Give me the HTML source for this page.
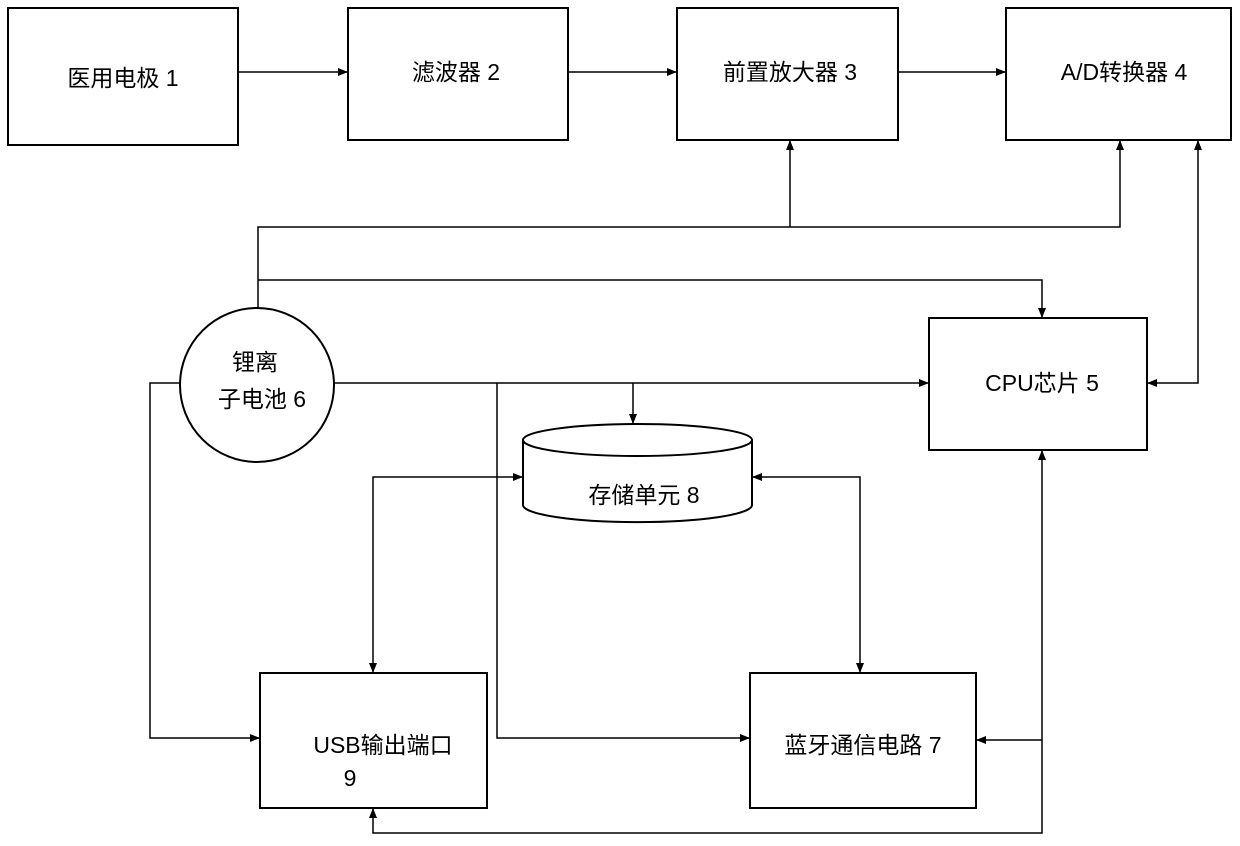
<!DOCTYPE html>
<html><head><meta charset="utf-8"><style>
html,body{margin:0;padding:0;background:#fff;}
svg text{font-family:"Liberation Sans","Noto Sans CJK SC",sans-serif;font-size:23px;fill:#000;}
</style></head><body>
<svg width="1240" height="841" viewBox="0 0 1240 841" xmlns="http://www.w3.org/2000/svg">
<defs><marker id="a" markerWidth="10" markerHeight="8" refX="9" refY="4" orient="auto-start-reverse" markerUnits="userSpaceOnUse"><path d="M0,0 L10,4 L0,8 z" fill="#000"/></marker></defs>
<g fill="none" stroke="#000" stroke-width="2">
<rect x="8" y="8" width="230" height="137"/>
<rect x="348" y="8" width="220" height="132"/>
<rect x="677" y="8" width="221" height="132"/>
<rect x="1006" y="8" width="225" height="132"/>
<rect x="929" y="318" width="218" height="132"/>
<rect x="260" y="673" width="227" height="135"/>
<rect x="750" y="673" width="226" height="135"/>
<ellipse cx="257" cy="385" rx="77" ry="77"/>
<path d="M523,440 L523,505 A114,17 0 0 0 752,505 L752,440"/>
<ellipse cx="637.5" cy="440" rx="114.5" ry="16"/>
</g>
<g fill="none" stroke="#000" stroke-width="1.5">
<line x1="238" y1="72" x2="347" y2="72" marker-end="url(#a)"/>
<line x1="568" y1="72" x2="676" y2="72" marker-end="url(#a)"/>
<line x1="898" y1="72" x2="1005" y2="72" marker-end="url(#a)"/>
<polyline points="258,308 258,227 1120,227 1120,141" marker-end="url(#a)"/>
<line x1="790" y1="227" x2="790" y2="141" marker-end="url(#a)"/>
<polyline points="258,280 1042,280 1042,317" marker-end="url(#a)"/>
<line x1="335" y1="383" x2="928" y2="383" marker-end="url(#a)"/>
<line x1="633" y1="383" x2="633" y2="423" marker-end="url(#a)"/>
<polyline points="497,383 497,738 749,738" marker-end="url(#a)"/>
<polyline points="180,383 150,383 150,738 259,738" marker-end="url(#a)"/>
<polyline points="1198,141 1198,383 1148,383" marker-start="url(#a)" marker-end="url(#a)"/>
<polyline points="1042,451 1042,833 373,833 373,809" marker-start="url(#a)" marker-end="url(#a)"/>
<line x1="1042" y1="740" x2="977" y2="740" marker-end="url(#a)"/>
<polyline points="522,477 373,477 373,672" marker-start="url(#a)" marker-end="url(#a)"/>
<polyline points="753,477 860,477 860,672" marker-start="url(#a)" marker-end="url(#a)"/>
</g>
<text x="123" y="86" text-anchor="middle">医用电极 1</text>
<text x="456" y="80" text-anchor="middle">滤波器 2</text>
<text x="790" y="80" text-anchor="middle">前置放大器 3</text>
<text x="1124" y="80" text-anchor="middle">A/D转换器 4</text>
<text x="1042" y="391" text-anchor="middle">CPU芯片 5</text>
<text x="255" y="370" text-anchor="middle">锂离</text>
<text x="262" y="407" text-anchor="middle">子电池 6</text>
<text x="644" y="503" text-anchor="middle">存储单元 8</text>
<text x="383" y="753" text-anchor="middle">USB输出端口</text>
<text x="350" y="786" text-anchor="middle">9</text>
<text x="863" y="753" text-anchor="middle">蓝牙通信电路 7</text>
</svg>
</body></html>
